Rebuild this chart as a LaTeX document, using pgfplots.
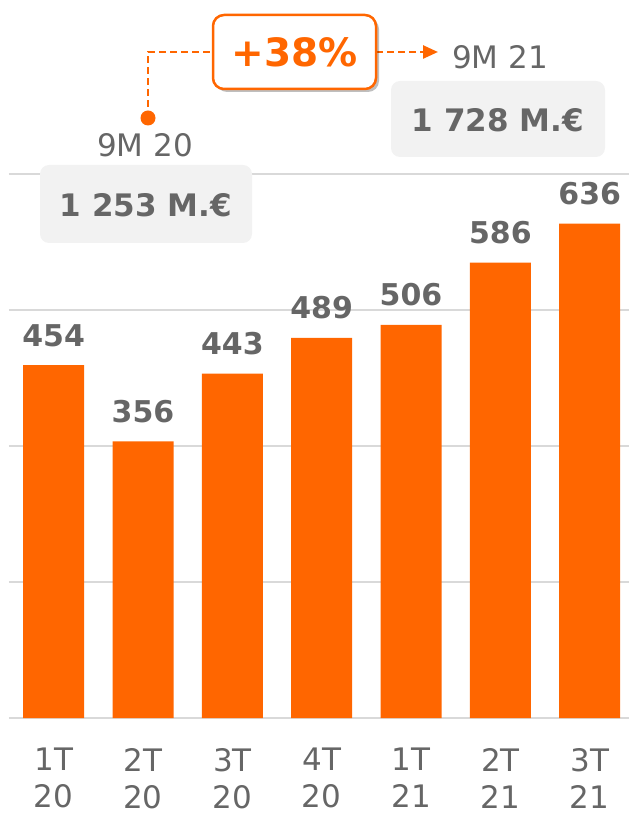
\documentclass[border=0pt]{standalone}
\usepackage{pgfplots}
\pgfplotsset{compat=1.18}
\usepackage{fontspec}
\setmainfont{DejaVu Sans}
\usetikzlibrary{arrows.meta,shadows}
\definecolor{orng}{HTML}{FF6600}
\definecolor{txtgray}{HTML}{666666}
\definecolor{gridgray}{HTML}{D9D9D9}
\definecolor{boxgray}{HTML}{F2F2F2}
\begin{document}
\begin{tikzpicture}
\useasboundingbox (0,0) rectangle (629pt,815pt);
\begin{axis}[
  at={(9pt,97pt)}, anchor=south west,
  scale only axis, width=620pt, height=544pt,
  xmin=-0.5, xmax=6.44, ymin=0, ymax=700,
  /pgf/number format/assume math mode=true,
  axis line style={draw=none},
  ytick={0,175,350,525,700}, yticklabels={},
  ymajorgrids, grid style={draw=gridgray, line width=1.5pt},
  major tick length=0pt,
  xtick={0,1,2,3,4,5,6},
  xticklabels={{1T\\20},{2T\\20},{3T\\20},{4T\\20},{1T\\21},{2T\\21},{3T\\21}},
  xticklabel style={align=center, inner sep=0pt, yshift=-30pt,
    font=\fontsize{31}{37}\selectfont, text=txtgray},
  clip=false,
]
\addplot[ybar, bar width=61pt, fill=orng, draw=none,
  nodes near coords,
  every node near coord/.append style={anchor=base, inner sep=0pt, yshift=19pt,
    font=\fontsize{30}{36}\selectfont\bfseries, text=txtgray}]
  coordinates {(0,454) (1,356) (2,443) (3,489) (4,506) (5,586) (6,636)};
\end{axis}
% annotations
\fill[boxgray, rounded corners=9pt] (40pt,572pt) rectangle (252pt,650pt);
\fill[boxgray, rounded corners=9pt] (391pt,658pt) rectangle (605pt,734pt);
\node[text=txtgray, font=\fontsize{31}{38}\selectfont] at (145pt,670pt) {9M 20};
\node[text=txtgray, font=\fontsize{31}{38}\selectfont] at (500pt,758pt) {9M 21};
\node[text=txtgray, font=\fontsize{31}{38}\selectfont\bfseries] at (146pt,610pt) {1 253 M.€};
\node[text=txtgray, font=\fontsize{31}{38}\selectfont\bfseries] at (498pt,695pt) {1 728 M.€};
\draw[orng, line width=2.5pt, dash pattern=on 7pt off 4pt] (148pt,697pt) -- (148pt,763pt) -- (213pt,763pt);
\draw[orng, line width=2.5pt, dash pattern=on 7pt off 4pt, -{Triangle[length=15pt,width=13pt]}] (376pt,763pt) -- (438pt,763pt);
\fill[orng] (148pt,697pt) circle (7.5pt);
\draw[orng, line width=2.5pt, fill=white, rounded corners=11pt,
  drop shadow={shadow xshift=3pt, shadow yshift=-3pt, opacity=0.25, fill=black}]
  (213pt,726pt) rectangle (376pt,800pt);
\node[text=orng, font=\fontsize{39}{46}\selectfont\bfseries] at (294.5pt,763pt) {+38\%};
\end{tikzpicture}
\end{document}
